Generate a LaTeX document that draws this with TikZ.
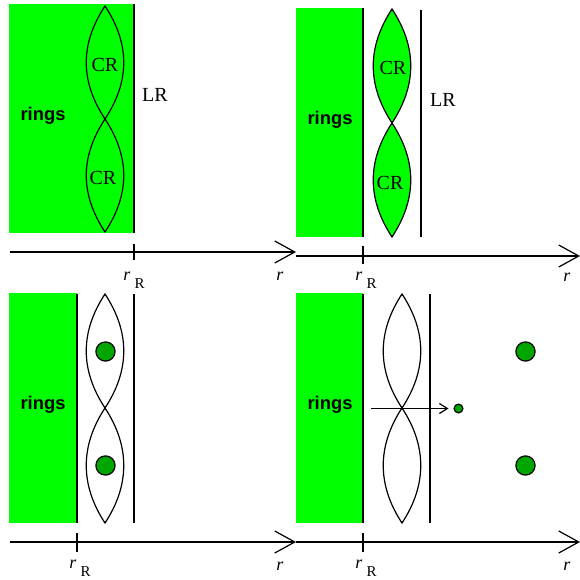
\documentclass[tikz,border=0pt]{standalone}
\usepackage{fontspec}
\setmainfont{Liberation Serif}
\setsansfont{Liberation Sans}
\usetikzlibrary{arrows.meta}
\definecolor{ringgreen}{RGB}{0,255,0}
\definecolor{blobgreen}{RGB}{0,166,0}

\begin{document}
\begin{tikzpicture}[x=0.5pt,y=0.5pt,yscale=-1,xscale=1,
    ringbox/.style={fill=ringgreen,draw=none},
    thinline/.style={line width=0.6pt},
    blob/.style={circle,draw,line width=0.6pt,fill=blobgreen,inner sep=0pt,minimum size=9.6pt},
    axisline/.style={line width=0.6pt,-{Straight Barb[length=10pt,width=11pt,line width=0.6pt]}},
    lbl/.style={inner sep=0.75pt,font=\fontsize{10}{12}\selectfont},
    ringlbl/.style={inner sep=0.75pt,font=\sffamily\bfseries\fontsize{9.2}{11}\selectfont},
    rlbl/.style={inner sep=0.75pt,font=\fontsize{9}{11}\selectfont}]
    \path[use as bounding box] (0,0) rectangle (580,580);

    %%% top left panel
    %Shape: Rectangle
    \draw[ringbox] (9,4) rectangle (134,233);
    %Straight Lines
    \draw[thinline] (134,4) -- (134,233);
    %Curve Lines
    \draw[thinline] (105,6) .. controls (80,44) and (80,81) .. (105,119) .. controls (130,81) and (130,44) .. (105,6) -- cycle;
    %Curve Lines
    \draw[thinline] (105,119) .. controls (80,157) and (80,194) .. (105,232) .. controls (130,194) and (130,157) .. (105,119) -- cycle;
    %Straight Lines
    \coordinate (axA0) at (10,252);
    \coordinate (axA1) at (296,252);
    \draw[axisline] (axA0) -- (axA1);
    \draw[thinline] (134,244) -- (134,260);

    % Text Node
    \node[ringlbl] (ringsA) at (43,116) {rings};
    % Text Node
    \node[lbl] (crA1) at (105,65) {CR};
    % Text Node
    \node[lbl] (crA2) at (103,178) {CR};
    % Text Node
    \node[lbl] (lrA) at (155,95) {LR};
    % Text Node
    \node[rlbl] (rRA) at (134,280) {\textit{r}\hspace{2pt}\raisebox{-4pt}{\fontsize{7.5}{9}\selectfont R}};
    % Text Node
    \node[rlbl] (rA) at (280,276) {\textit{r}};

    %%% top right panel
    %Shape: Rectangle
    \draw[ringbox] (296,8) rectangle (363,237);
    %Straight Lines
    \draw[thinline] (363,8) -- (363,237);
    %Curve Lines
    \draw[thinline,fill=ringgreen] (392,9) .. controls (367,47) and (367,85) .. (392,123) .. controls (417,85) and (417,47) .. (392,9) -- cycle;
    %Curve Lines
    \draw[thinline,fill=ringgreen] (392,123) .. controls (367,161) and (367,199) .. (392,237) .. controls (417,199) and (417,161) .. (392,123) -- cycle;
    %Straight Lines
    \draw[thinline] (421,10) -- (421,237);
    %Straight Lines
    \coordinate (axB0) at (296,256);
    \coordinate (axB1) at (580,256);
    \draw[axisline] (axB0) -- (axB1);
    \draw[thinline] (363,246) -- (363,264);

    % Text Node
    \node[ringlbl] (ringsB) at (330,120) {rings};
    % Text Node
    \node[lbl] (crB1) at (393,68) {CR};
    % Text Node
    \node[lbl] (crB2) at (390,183) {CR};
    % Text Node
    \node[lbl] (lrB) at (443,100) {LR};
    % Text Node
    \node[rlbl] (rRB) at (366,280) {\textit{r}\hspace{2pt}\raisebox{-4pt}{\fontsize{7.5}{9}\selectfont R}};
    % Text Node
    \node[rlbl] (rB) at (567,277) {\textit{r}};

    %%% bottom left panel
    %Shape: Rectangle
    \draw[ringbox] (9,293) rectangle (77,523);
    %Straight Lines
    \draw[thinline] (77,294) -- (77,523);
    %Curve Lines
    \draw[thinline] (105,294) .. controls (80,332) and (80,370) .. (105,408) .. controls (130,370) and (130,332) .. (105,294) -- cycle;
    %Curve Lines
    \draw[thinline] (105,408) .. controls (80,446) and (80,485) .. (105,523) .. controls (130,485) and (130,446) .. (105,408) -- cycle;
    %Straight Lines
    \draw[thinline] (134,294) -- (134,523);
    %Straight Lines
    \coordinate (axC0) at (10,542);
    \coordinate (axC1) at (296,542);
    \draw[axisline] (axC0) -- (axC1);
    \draw[thinline] (77,533) -- (77,552);

    % Shape: Circle
    \node[blob] (blobC1) at (105.5,351.5) {};
    % Shape: Circle
    \node[blob] (blobC2) at (105.5,465.5) {};
    % Text Node
    \node[ringlbl] (ringsC) at (43,405) {rings};
    % Text Node
    \node[rlbl] (rRC) at (80,568) {\textit{r}\hspace{2pt}\raisebox{-4pt}{\fontsize{7.5}{9}\selectfont R}};
    % Text Node
    \node[rlbl] (rC) at (280,566) {\textit{r}};

    %%% bottom right panel
    %Shape: Rectangle
    \draw[ringbox] (296,293) rectangle (363,523);
    %Straight Lines
    \draw[thinline] (363,294) -- (363,523);
    %Curve Lines
    \draw[thinline] (402,294) .. controls (377,332) and (377,370) .. (402,408) .. controls (427,370) and (427,332) .. (402,294) -- cycle;
    %Curve Lines
    \draw[thinline] (402,408) .. controls (377,446) and (377,485) .. (402,523) .. controls (427,485) and (427,446) .. (402,408) -- cycle;
    %Straight Lines
    \draw[thinline] (430,294) -- (430,523);
    %Straight Lines
    \coordinate (axD0) at (296,542);
    \coordinate (axD1) at (580,542);
    \draw[axisline] (axD0) -- (axD1);
    \draw[thinline] (363,533) -- (363,552);

    % Shape: Circle
    \node[blob,minimum size=4.4pt] (seed) at (458.5,408.5) {};
    % Shape: Circle
    \node[blob] (blobD1) at (525.5,351.5) {};
    % Shape: Circle
    \node[blob] (blobD2) at (525.5,465.5) {};
    %Straight Lines
    \coordinate (esc) at (371,408.5);
    \draw[thinline,-{Straight Barb[length=4pt,width=5pt,line width=0.6pt]},shorten >=2.5pt] (esc) -- (seed);
    % Text Node
    \node[ringlbl] (ringsD) at (330,405) {rings};
    % Text Node
    \node[rlbl] (rRD) at (366,568) {\textit{r}\hspace{2pt}\raisebox{-4pt}{\fontsize{7.5}{9}\selectfont R}};
    % Text Node
    \node[rlbl] (rD) at (567,566) {\textit{r}};

\end{tikzpicture}
\end{document}
